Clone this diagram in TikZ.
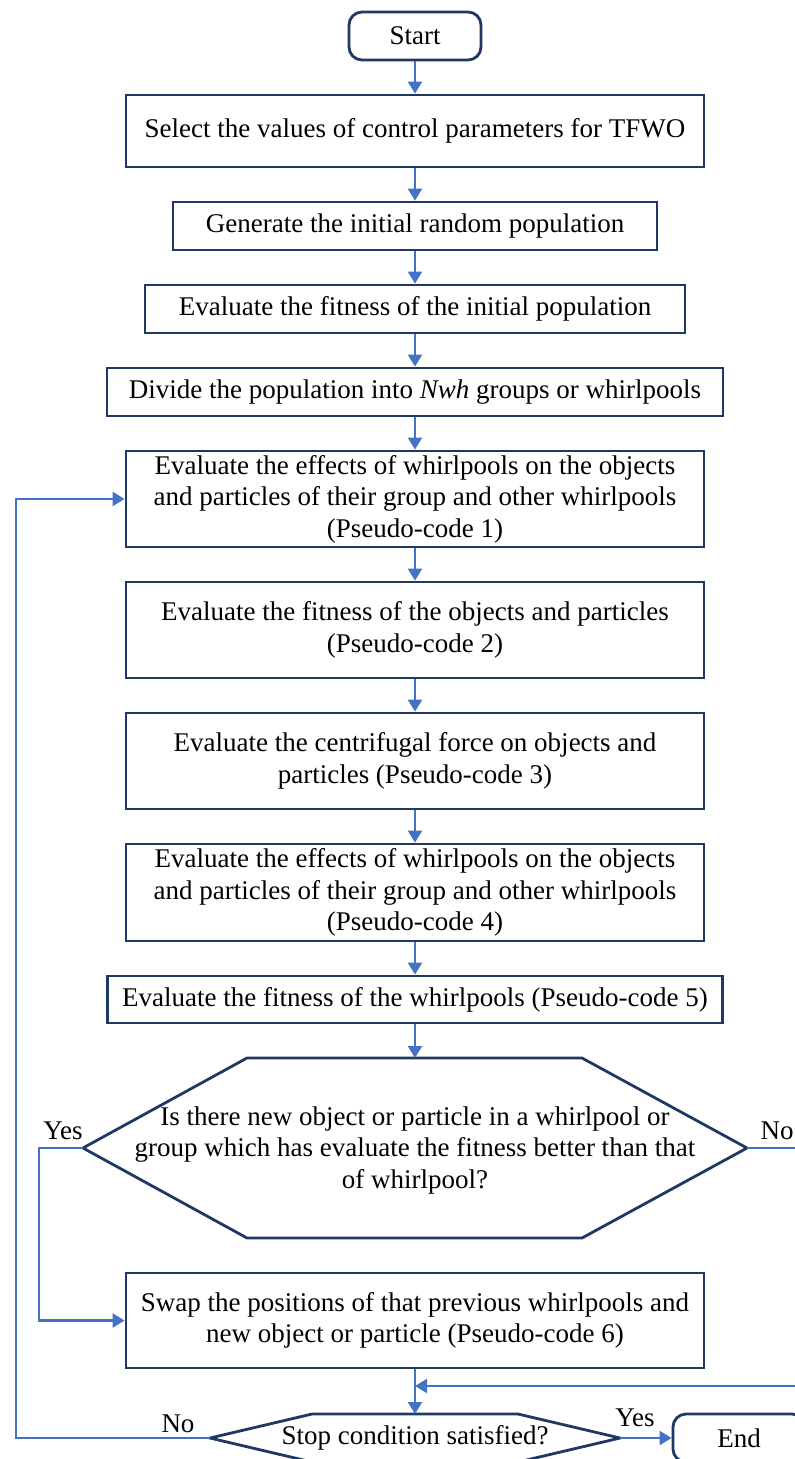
\documentclass[tikz,border=0pt]{standalone}
\usepackage{fontspec}
\setmainfont{Liberation Serif}
\usetikzlibrary{arrows.meta}
\definecolor{boxc}{HTML}{1F3864}
\definecolor{linec}{HTML}{4472C4}
\tikzset{
  bodyfont/.style={font=\fontsize{27}{31.5}\selectfont},
  box/.style={draw=boxc, line width=2.8pt, align=center, inner sep=0pt, bodyfont},
  term/.style={box, rounded corners=13pt, minimum width=132pt, minimum height=48pt},
  conn/.style={draw=linec, line width=2.2pt, -{Triangle[length=12pt,width=14pt]}},
  shapeline/.style={draw=boxc, line width=2.8pt, line join=miter},
  txt/.style={align=center, inner sep=0pt, bodyfont},
  lbl/.style={inner sep=0pt, bodyfont}
}
\begin{document}
\begin{tikzpicture}[x=1pt,y=-1pt]
\useasboundingbox (0,0) rectangle (795,1459);
\clip (0,0) rectangle (795,1459);

% terminals
\node[term] (start) at (415,36) {Start};
\node[term] (endn) at (739,1438) {End};

% process boxes
\node[box, minimum width=578pt, minimum height=72pt] (b1) at (415,131) {Select the values of control parameters for TFWO};
\node[box, minimum width=484pt, minimum height=48pt] (b2) at (415,226) {Generate the initial random population};
\node[box, minimum width=540pt, minimum height=48pt] (b3) at (415,309) {Evaluate the fitness of the initial population};
\node[box, minimum width=616pt, minimum height=48pt] (b4) at (415,392) {Divide the population into \textit{Nwh} groups or whirlpools};
\node[box, minimum width=578pt, minimum height=96pt] (b5) at (415,499) {Evaluate the effects of whirlpools on the objects\\and particles of their group and other whirlpools\\(Pseudo-code 1)};
\node[box, minimum width=578pt, minimum height=96pt] (b6) at (415,630) {Evaluate the fitness of the objects and particles\\(Pseudo-code 2)};
\node[box, minimum width=578pt, minimum height=96pt] (b7) at (415,761) {Evaluate the centrifugal force on objects and\\particles (Pseudo-code 3)};
\node[box, minimum width=578pt, minimum height=97pt] (b8) at (415,892.5) {Evaluate the effects of whirlpools on the objects\\and particles of their group and other whirlpools\\(Pseudo-code 4)};
\node[box, minimum width=615pt, minimum height=47pt] (b9) at (415,999.5) {Evaluate the fitness of the whirlpools (Pseudo-code 5)};
\node[box, minimum width=578pt, minimum height=95pt] (b10) at (415,1320.5) {Swap the positions of that previous whirlpools and\\new object or particle (Pseudo-code 6)};

% decision hexagon
\coordinate (decL) at (83,1148);
\coordinate (decTL) at (247,1058);
\coordinate (decT) at (415,1058);
\coordinate (decTR) at (582,1058);
\coordinate (decR) at (747,1148);
\coordinate (decBR) at (582,1238);
\coordinate (decBL) at (247,1238);
\draw[shapeline] (decL) -- (decTL) -- (decTR) -- (decR) -- (decBR) -- (decBL) -- cycle;
\node[txt] (dec) at (415,1150) {Is there new object or particle in a whirlpool or\\group which has evaluate the fitness better than that\\of whirlpool?};

% stop hexagon
\coordinate (stopL) at (210,1438);
\coordinate (stopTL) at (312,1414);
\coordinate (stopT) at (415,1414);
\coordinate (stopTR) at (518,1414);
\coordinate (stopR) at (620,1438);
\coordinate (stopBR) at (518,1462);
\coordinate (stopBL) at (312,1462);
\draw[shapeline] (stopL) -- (stopTL) -- (stopTR) -- (stopR) -- (stopBR) -- (stopBL) -- cycle;
\node[txt] (stop) at (415,1438) {Stop condition satisfied?};

% main flow
\draw[conn] (start) -- (b1);
\draw[conn] (b1) -- (b2);
\draw[conn] (b2) -- (b3);
\draw[conn] (b3) -- (b4);
\draw[conn] (b4) -- (b5);
\draw[conn] (b5) -- (b6);
\draw[conn] (b6) -- (b7);
\draw[conn] (b7) -- (b8);
\draw[conn] (b8) -- (b9);
\draw[conn] (b9) -- (decT);
\draw[conn] (b10) -- (stopT);

% yes branch of decision
\draw[conn] (decL) -- ++(-44,0) |- (b10.west);
% no branch of decision (runs off the right edge and back)
\coordinate (fb) at (415,1386);
\draw[conn] (decR) -- ++(60,0) |- (fb);
% stop: no -> loop back
\draw[conn] (stopL) -- ++(-194,0) |- (b5.west);
% stop: yes -> end
\draw[conn] (stopR) -- (endn.west);

% labels
\node[lbl] (yes1) at (63,1131) {Yes};
\node[lbl] (no1) at (777,1131) {No};
\node[lbl] (no2) at (178,1424) {No};
\node[lbl] (yes2) at (635,1418) {Yes};
\end{tikzpicture}
\end{document}
